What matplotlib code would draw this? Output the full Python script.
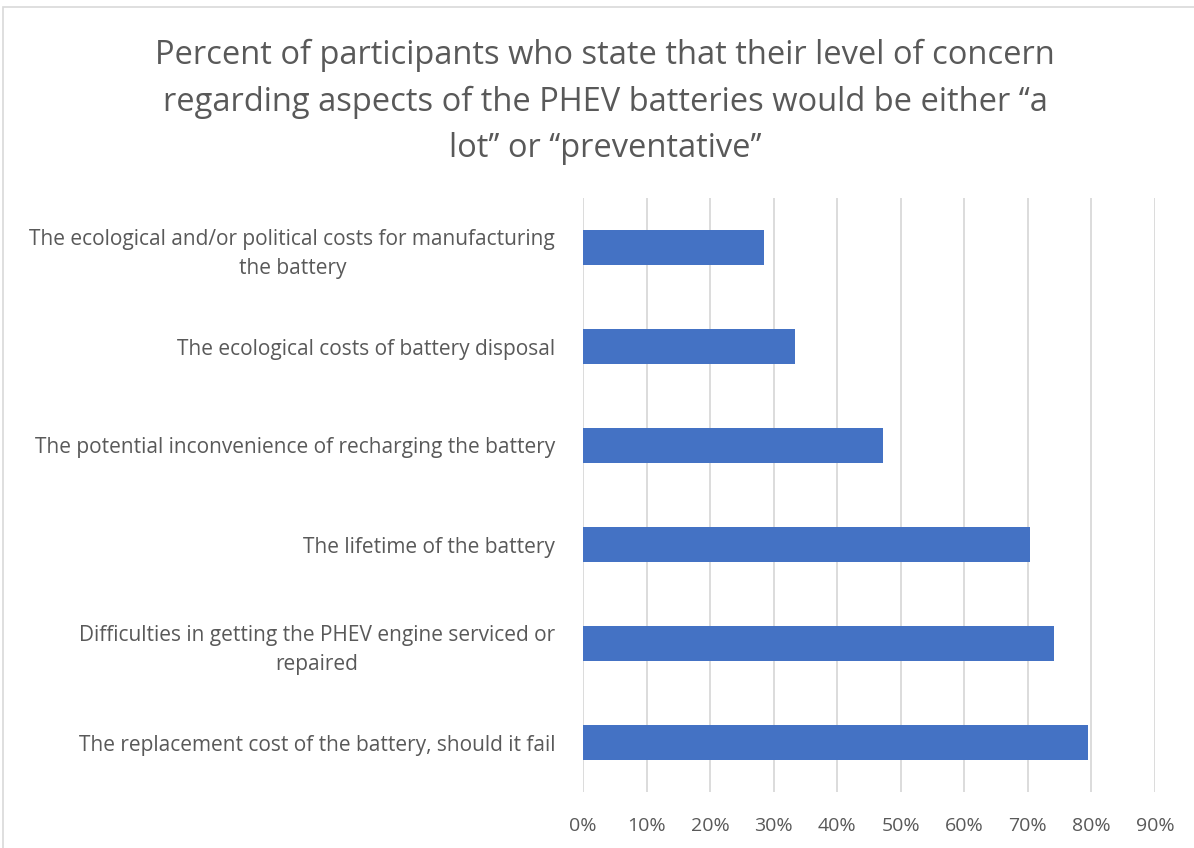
import matplotlib
matplotlib.use("Agg")
import matplotlib.pyplot as plt
from matplotlib.patches import Rectangle
from matplotlib.ticker import PercentFormatter

# Категории (снизу вверх) и доли участников
categories = [
    "The replacement cost of the battery, should it fail",
    "Difficulties in getting the PHEV engine serviced or\nrepaired",
    "The lifetime of the battery",
    "The potential inconvenience of recharging the battery",
    "The ecological costs of battery disposal",
    "The ecological and/or political costs for manufacturing\nthe battery",
]
values = [0.795, 0.741, 0.704, 0.472, 0.333, 0.285]
x_ticks = [0.0, 0.1, 0.2, 0.3, 0.4, 0.5, 0.6, 0.7, 0.8, 0.9]

title = ("Percent of participants who state that their level of concern\n"
         "regarding aspects of the PHEV batteries would be either \u2018\u2018a\n"
         "lot\u2019\u2019 or \u2018\u2018preventative\u2019\u2019")

plt.rcParams['font.family'] = ['Open Sans', 'DejaVu Sans']

W, H = 1194, 848
fig = plt.figure(figsize=(W / 100, H / 100), dpi=100)

# рамка области диаграммы
fig.patches.append(Rectangle((3 / W, -0.1), 1.2, 1 - 7 / H + 0.1, transform=fig.transFigure,
                             fill=False, edgecolor='#d9d9d9', linewidth=1.2))

ax = fig.add_axes([583 / W, 1 - 792 / H, (1155 - 583) / W, (792 - 198) / H])
y = range(len(categories))
ax.barh(y, values, height=0.355, color='#4472c4', zorder=3)

ax.set_xlim(0, 0.9)
ax.set_ylim(-0.5, len(categories) - 0.5)
ax.set_xticks(x_ticks)
ax.xaxis.set_major_formatter(PercentFormatter(1.0, decimals=0))
ax.set_yticks(list(y))
ax.set_yticklabels(categories, ha='right', multialignment='center', linespacing=1.5)
ax.tick_params(axis='both', length=0, colors='#595959')
ax.tick_params(axis='x', pad=18, labelsize=14)
ax.tick_params(axis='y', pad=20, labelsize=15)
ax.grid(axis='x', color='#d9d9d9', linewidth=1.3, zorder=0)
for s in ax.spines.values():
    s.set_visible(False)
ax.set_axisbelow(True)

fig.text(0.507, 1 - 39 / H, title, ha='center', va='top', fontsize=23.5,
         color='#595959', linespacing=1.52)

fig.savefig("out.png", dpi=100)
